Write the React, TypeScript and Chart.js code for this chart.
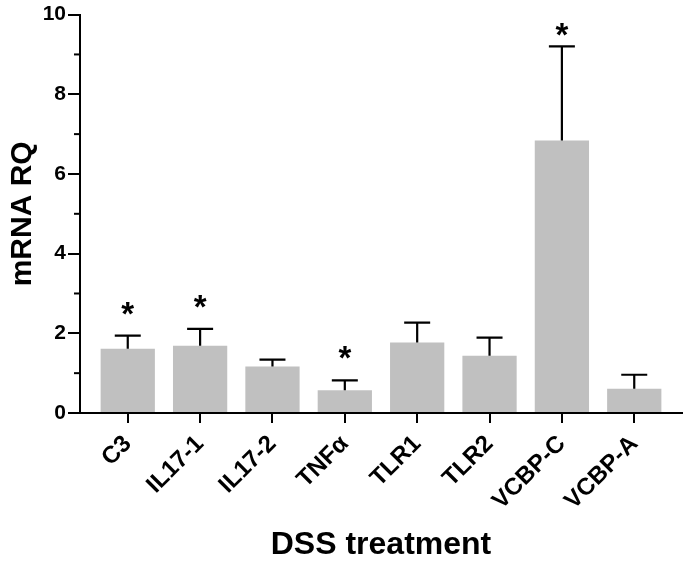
import React, { useEffect, useRef } from "react";
import { Chart, registerables } from "chart.js";

Chart.register(...registerables);

const categories = ["C3", "IL17-1", "IL17-2", "TNFα", "TLR1", "TLR2", "VCBP-C", "VCBP-A"];
const means = [1.61, 1.69, 1.17, 0.57, 1.77, 1.44, 6.84, 0.61];
const sems = [0.33, 0.42, 0.17, 0.25, 0.5, 0.45, 2.36, 0.35];
const significant = [true, true, false, true, false, false, true, false];
const yMinorTicks = [1, 3, 5, 7, 9];

const FONT = "'Liberation Sans', Arial, Helvetica, sans-serif";

const overlayPlugin = {
  id: "overlay",
  afterDatasetsDraw(chart: any) {
    const ctx = chart.ctx;
    const yScale = chart.scales.y;
    const meta = chart.getDatasetMeta(0);
    ctx.save();
    ctx.strokeStyle = "#000";
    ctx.lineWidth = 2.2;
    ctx.lineCap = "butt";
    meta.data.forEach((bar: any, i: number) => {
      const x = bar.x;
      const yTop = bar.y;
      const yCap = yScale.getPixelForValue(means[i] + sems[i]);
      ctx.beginPath();
      ctx.moveTo(x, yTop);
      ctx.lineTo(x, yCap);
      ctx.moveTo(x - 13, yCap);
      ctx.lineTo(x + 13, yCap);
      ctx.stroke();
      if (significant[i]) {
        const cy = Math.max(yCap - 30, 27);
        ctx.fillStyle = "#000";
        ctx.font = `bold 33px ${FONT}`;
        ctx.textAlign = "center";
        ctx.textBaseline = "alphabetic";
        ctx.fillText("*", x, cy + 19);
      }
    });
    const left = chart.chartArea.left;
    ctx.lineWidth = 2;
    yMinorTicks.forEach((v) => {
      const y = yScale.getPixelForValue(v);
      ctx.beginPath();
      ctx.moveTo(left - 6, y);
      ctx.lineTo(left, y);
      ctx.stroke();
    });
    ctx.restore();
  },
};

export default function App() {
  const ref = useRef<HTMLCanvasElement | null>(null);
  useEffect(() => {
    if (!ref.current) return;
    const chart = new Chart(ref.current, {
      type: "bar",
      data: {
        datasets: [
          {
            data: means.map((y, i) => ({ x: i, y })),
            backgroundColor: "#c0c0c0",
            borderWidth: 0,
            barPercentage: 0.75,
            categoryPercentage: 1.0,
          },
        ],
      },
      options: {
        responsive: false,
        animation: false,
        plugins: { legend: { display: false }, tooltip: { enabled: false } },
        layout: { padding: { left: 0, right: 1, top: 13, bottom: 0 } },
        scales: {
          x: {
            type: "linear",
            min: -0.66,
            max: 7.66,
            offset: false,
            afterBuildTicks: (scale: any) => {
              scale.ticks = categories.map((_, i) => ({ value: i }));
            },
            afterFit: (scale: any) => {
              scale.height = 148;
            },
            ticks: {
              autoSkip: false,
              minRotation: 45,
              maxRotation: 45,
              color: "#000",
              padding: 7,
              font: { family: FONT, size: 24, weight: "bold" },
              callback: (v: any) => categories[v] ?? "",
            },
            grid: {
              offset: false,
              drawOnChartArea: false,
              drawTicks: true,
              tickLength: 10,
              color: "#000",
              lineWidth: 2,
            },
            border: { display: true, color: "#000", width: 2 },
            title: {
              display: true,
              text: "DSS treatment",
              color: "#000",
              font: { family: FONT, size: 32, weight: "bold", lineHeight: 1 },
              padding: { top: 0, bottom: 0 },
            },
          },
          y: {
            min: 0,
            max: 10,
            afterFit: (scale: any) => {
              scale.width = 80;
            },
            ticks: {
              stepSize: 2,
              color: "#000",
              padding: 2,
              font: { family: FONT, size: 21, weight: "bold" },
            },
            grid: {
              drawOnChartArea: false,
              drawTicks: true,
              tickLength: 12,
              color: "#000",
              lineWidth: 2,
            },
            border: { display: true, color: "#000", width: 2 },
            title: {
              display: true,
              text: "mRNA RQ",
              color: "#000",
              font: { family: FONT, size: 30, weight: "bold", lineHeight: 1 },
              padding: { top: 8, bottom: 0 },
            },
          },
        },
      },
      plugins: [overlayPlugin],
    } as any);
    return () => chart.destroy();
  }, []);
  return (
    <div style={{ position: "absolute", left: 0, top: 0, width: 683, height: 561 }}>
      <canvas ref={ref} width={683} height={561} style={{ display: "block" }} />
    </div>
  );
}
